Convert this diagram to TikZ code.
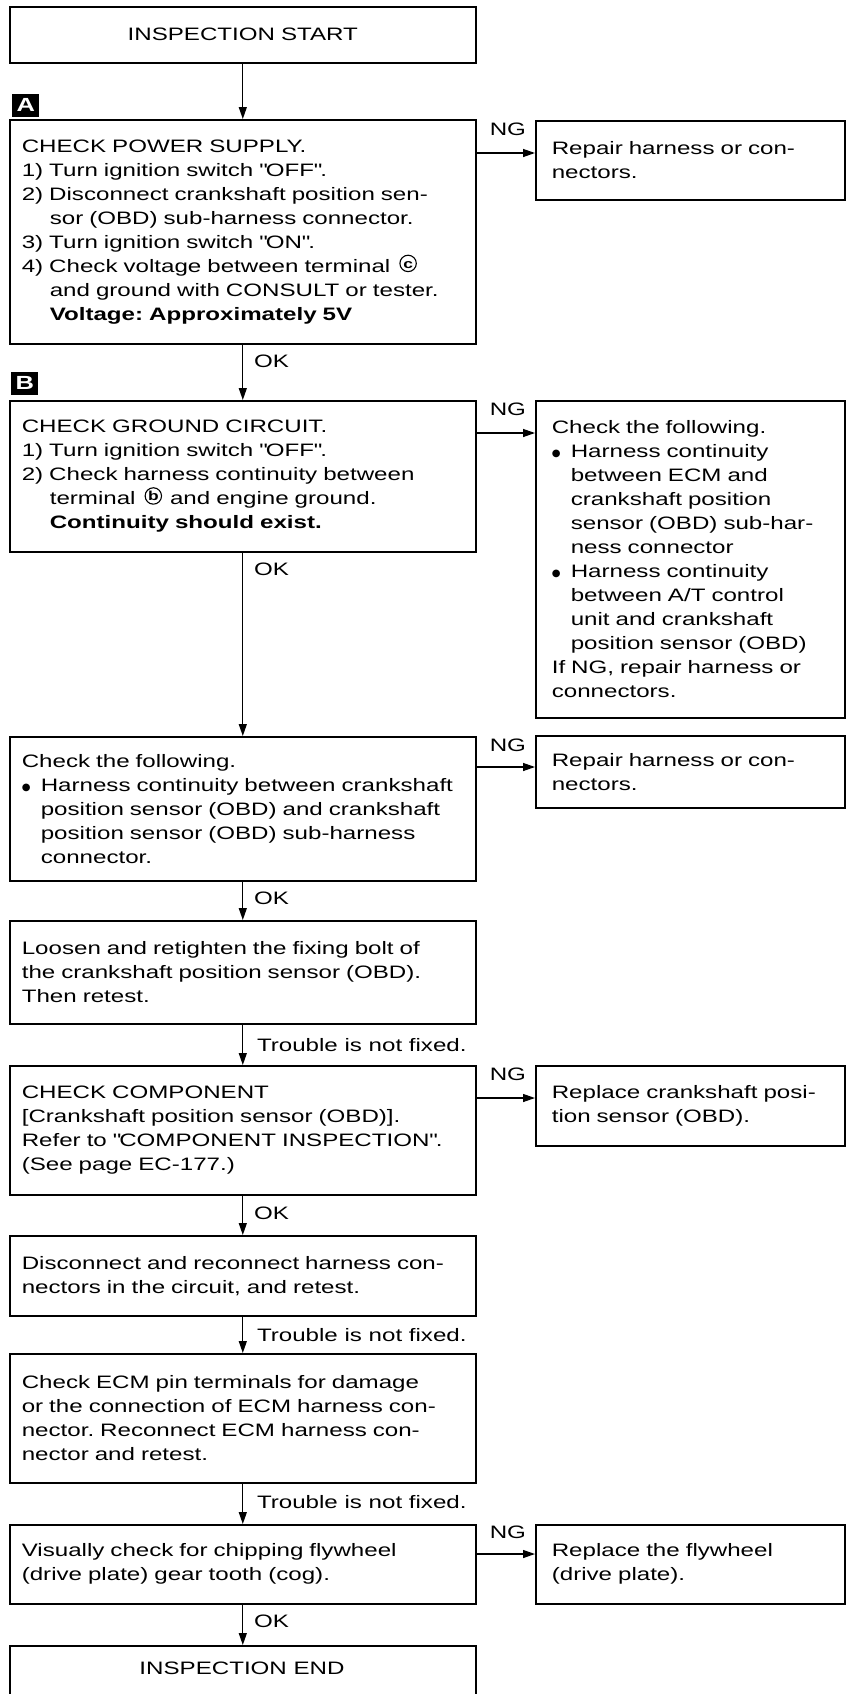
\documentclass[tikz,border=0pt]{standalone}
\usepackage{fontspec}
\setmainfont{Liberation Sans}[FakeStretch=1.34]
\newfontfamily\dejavu{DejaVu Sans}
\usetikzlibrary{arrows.meta,calc}
\newcommand{\bul}{\makebox[19pt][l]{\raisebox{0.8pt}{\dejavu\fontsize{10}{10}\selectfont ●}}}
\newcommand{\ind}{\hspace*{28pt}}
\newcommand{\bind}{\hspace*{19pt}}
\newcommand{\q}{\textquotedbl}
\newcommand{\circled}[1]{\hspace{3pt}\begin{pgfpicture}\pgfsetlinewidth{1.1pt}\pgfpathcircle{\pgfpoint{0pt}{4.6pt}}{8.2pt}\pgfusepath{stroke}\pgftext[base]{\fontsize{13}{13}\selectfont\bfseries #1}\end{pgfpicture}\hspace{2pt}}
\tikzset{
  txt/.style={font=\fontsize{18}{24}\selectfont\frenchspacing},
  lbox/.style={draw, line width=1.6pt, rectangle, anchor=north west, minimum width=466pt, text width=442pt, inner xsep=12pt, inner ysep=0pt, align=left, txt},
  rbox/.style={draw, line width=1.6pt, rectangle, anchor=north west, minimum width=309pt, text width=277pt, inner xsep=16pt, inner ysep=0pt, align=left, txt},
  arr/.style={line width=1.3pt, -{Triangle[length=12pt,width=8pt]}},
  tag/.style={fill=black, text=white, font=\fontsize{19}{19}\selectfont\bfseries, minimum width=27pt, minimum height=23pt, inner sep=0pt, anchor=south west},
  lab/.style={txt, inner sep=0pt},
}
\begin{document}
\begin{tikzpicture}[x=1pt,y=1pt]
\useasboundingbox (0,0) rectangle (846,-1694);
\clip (0,0) rectangle (846,-1694);

% boxes
\node[lbox, minimum height=56pt, align=center] (start) at (9,-6) {INSPECTION START};

\node[lbox, minimum height=224pt] (A) at (9,-119) {CHECK POWER SUPPLY.\\
1) Turn ignition switch \q OFF\q.\\
2) Disconnect crankshaft position sen-\\
\ind sor (OBD) sub-harness connector.\\
3) Turn ignition switch \q ON\q.\\
4) Check voltage between terminal \circled{c}\\
\ind and ground with CONSULT or tester.\\
\ind\textbf{Voltage: Approximately 5V}};

\node[rbox, minimum height=79pt] (R1) at (535,-120) {Repair harness or con-\\nectors.};

\node[lbox, minimum height=151pt] (B) at (9,-400) {CHECK GROUND CIRCUIT.\\
1) Turn ignition switch \q OFF\q.\\
2) Check harness continuity between\\
\ind terminal \circled{b} and engine ground.\\
\ind\textbf{Continuity should exist.}};

\node[rbox, minimum height=317pt] (R2) at (535,-400) {Check the following.\\
\bul Harness continuity\\
\bind between ECM and\\
\bind crankshaft position\\
\bind sensor (OBD) sub-har-\\
\bind ness connector\\
\bul Harness continuity\\
\bind between A/T control\\
\bind unit and crankshaft\\
\bind position sensor (OBD)\\
If NG, repair harness or\\
connectors.};

\node[lbox, minimum height=144pt] (C) at (9,-736) {Check the following.\\
\bul Harness continuity between crankshaft\\
\bind position sensor (OBD) and crankshaft\\
\bind position sensor (OBD) sub-harness\\
\bind connector.};

\node[rbox, minimum height=72pt] (R3) at (535,-735) {Repair harness or con-\\nectors.};

\node[lbox, minimum height=103pt] (D) at (9,-920) {Loosen and retighten the fixing bolt of\\
the crankshaft position sensor (OBD).\\
Then retest.};

\node[lbox, minimum height=129pt] (E) at (9,-1065) {CHECK COMPONENT\\
{[}Crankshaft position sensor (OBD){]}.\\
Refer to \q COMPONENT INSPECTION\q.\\
(See page EC-177.)};

\node[rbox, minimum height=80pt] (R4) at (535,-1065) {Replace crankshaft posi-\\tion sensor (OBD).};

\node[lbox, minimum height=80pt] (F) at (9,-1235) {Disconnect and reconnect harness con-\\
nectors in the circuit, and retest.};

\node[lbox, minimum height=129pt] (G) at (9,-1353) {Check ECM pin terminals for damage\\
or the connection of ECM harness con-\\
nector. Reconnect ECM harness con-\\
nector and retest.};

\node[lbox, minimum height=79pt] (H) at (9,-1524) {Visually check for chipping flywheel\\
(drive plate) gear tooth (cog).};

\node[rbox, minimum height=79pt] (R5) at (535,-1524) {Replace the flywheel\\(drive plate).};

\node[lbox, minimum height=70pt] (end) at (9,-1645) {};
\node[lab] (endtxt) at (242,-1668) {INSPECTION END};

% tags
\node[tag] (tagA) at ($(A.north west)+(3,2)$) {A};
\node[tag] (tagB) at ($(B.north west)+(2,5)$) {B};

% vertical arrows
\draw[arr] (start.south) -- (A.north);
\draw[arr] (A.south) -- (B.north);
\node[lab, anchor=west] (okA) at ($(A.south)+(11,-17)$) {OK};
\draw[arr] (B.south) -- (C.north);
\node[lab, anchor=west] (okB) at ($(B.south)+(11,-17)$) {OK};
\draw[arr] (C.south) -- (D.north);
\node[lab, anchor=west] (okC) at ($(C.south)+(11,-17)$) {OK};
\draw[arr] (D.south) -- (E.north);
\node[lab, anchor=west] (trD) at ($(D.south)+(14,-20)$) {Trouble is not fixed.};
\draw[arr] (E.south) -- (F.north);
\node[lab, anchor=west] (okE) at ($(E.south)+(11,-18)$) {OK};
\draw[arr] (F.south) -- (G.north);
\node[lab, anchor=west] (trF) at ($(F.south)+(14,-18)$) {Trouble is not fixed.};
\draw[arr] (G.south) -- (H.north);
\node[lab, anchor=west] (trG) at ($(G.south)+(14,-18)$) {Trouble is not fixed.};
\draw[arr] (H.south) -- (end.north);
\node[lab, anchor=west] (okH) at ($(H.south)+(11,-17)$) {OK};

% NG arrows
\coordinate (ngA) at ($(A.north east)+(0,-34)$);
\draw[arr] (ngA) -- (ngA -| R1.west);
\node[lab, anchor=south west] (ngAl) at ($(ngA)+(13,17)$) {NG};
\coordinate (ngB) at ($(B.north east)+(0,-33)$);
\draw[arr] (ngB) -- (ngB -| R2.west);
\node[lab, anchor=south west] (ngBl) at ($(ngB)+(13,17)$) {NG};
\coordinate (ngC) at ($(C.north east)+(0,-31)$);
\draw[arr] (ngC) -- (ngC -| R3.west);
\node[lab, anchor=south west] (ngCl) at ($(ngC)+(13,15)$) {NG};
\coordinate (ngE) at ($(E.north east)+(0,-33)$);
\draw[arr] (ngE) -- (ngE -| R4.west);
\node[lab, anchor=south west] (ngEl) at ($(ngE)+(13,17)$) {NG};
\coordinate (ngH) at ($(H.north east)+(0,-30)$);
\draw[arr] (ngH) -- (ngH -| R5.west);
\node[lab, anchor=south west] (ngHl) at ($(ngH)+(13,15)$) {NG};
\end{tikzpicture}
\end{document}
